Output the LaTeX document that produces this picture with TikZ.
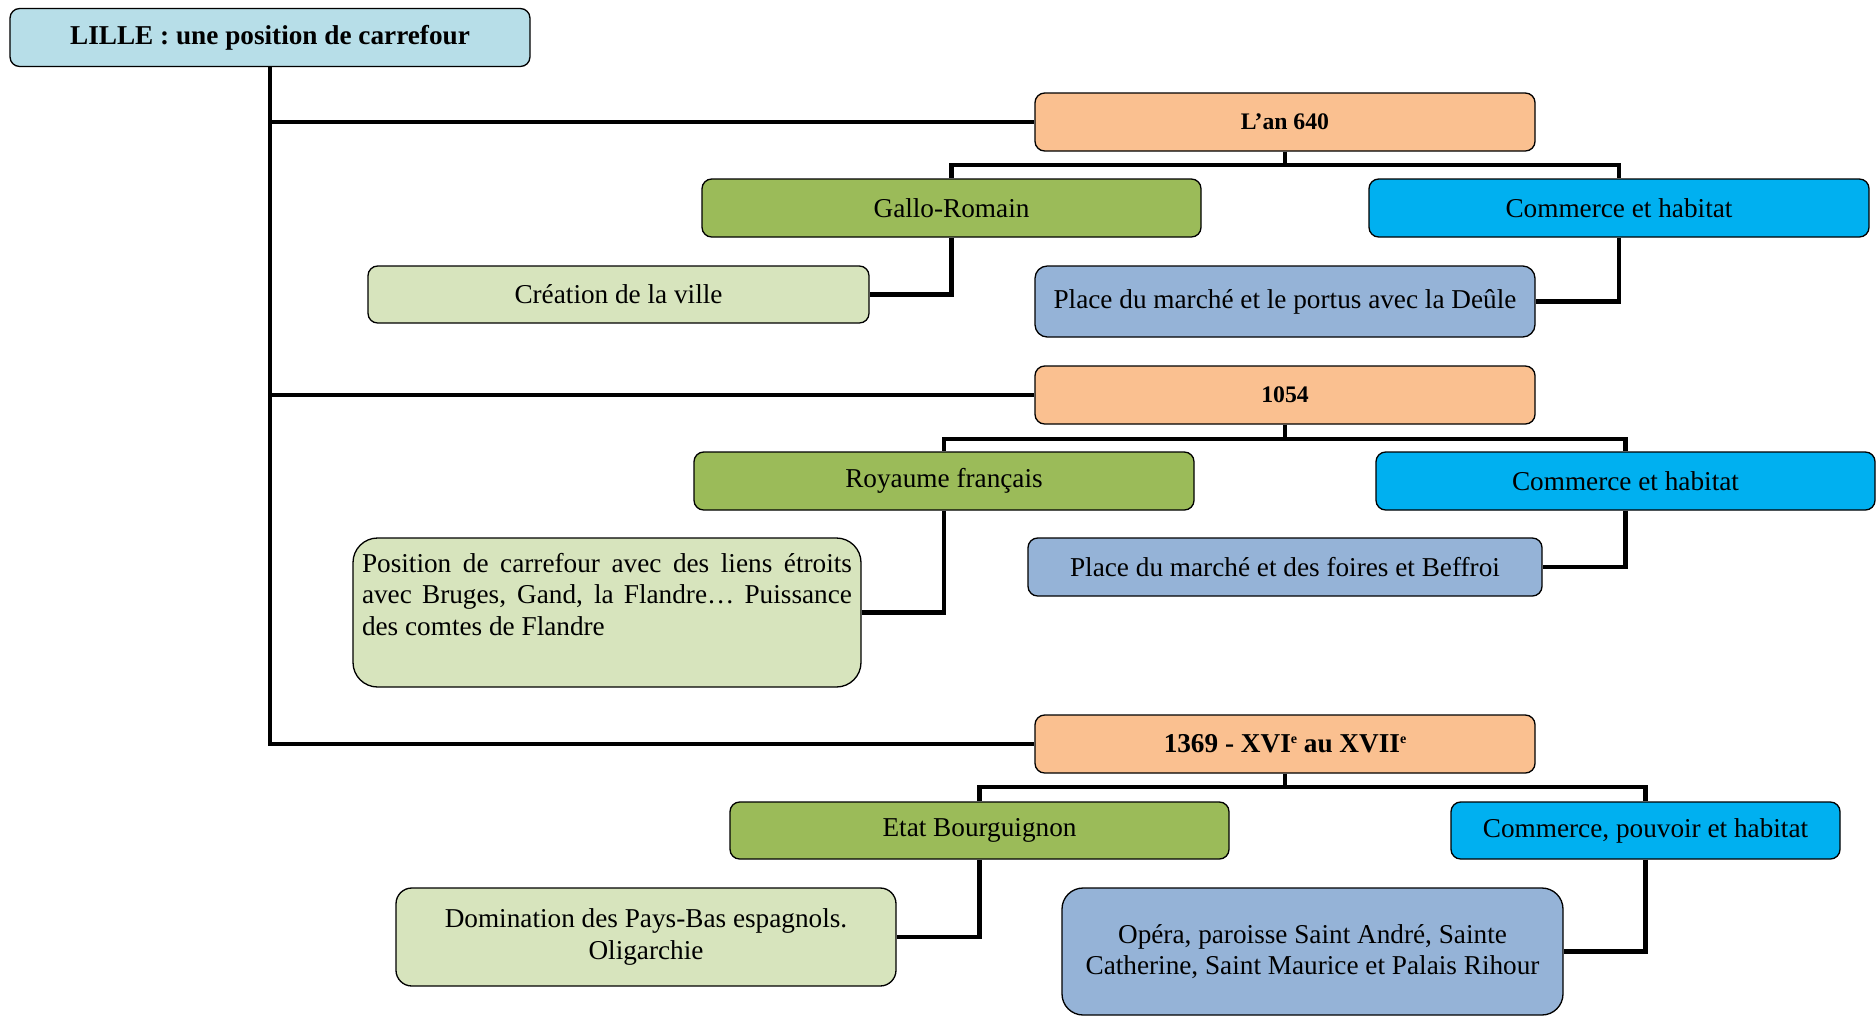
\documentclass[tikz,border=0pt]{standalone}
\usepackage{fontspec}
\setmainfont{Liberation Serif}
\definecolor{titlecol}{HTML}{B7DEE8}
\definecolor{yearcol}{HTML}{FAC090}
\definecolor{periodcol}{HTML}{9BBB59}
\definecolor{tradecol}{HTML}{00B0F0}
\definecolor{factcol}{HTML}{D7E4BD}
\definecolor{placecol}{HTML}{95B3D7}
\newcommand{\sieclesup}[1]{\raisebox{0.75ex}{\fontsize{8}{8}\selectfont #1}}

\begin{document}
\begin{tikzpicture}[
  box/.style={draw,line width=0.75pt,rounded corners=5.5pt,inner sep=0pt,
    minimum height=1.16cm,minimum width=10cm,align=center,
    font=\fontsize{15.5}{18}\selectfont},
  yearbox/.style={box,fill=yearcol,font=\fontsize{13.5}{16}\selectfont\bfseries},
  periodbox/.style={box,fill=periodcol},
  tradebox/.style={box,fill=tradecol},
  factbox/.style={box,fill=factcol},
  placebox/.style={box,fill=placecol},
  link/.style={line width=2.3pt}
]
  \useasboundingbox (0,0) rectangle (37.52,-20.34);

  % titre
  \node[box,fill=titlecol,minimum width=10.4cm,font=\fontsize{15.5}{18}\selectfont\bfseries]
    (lille) at (5.4,-0.75) {LILLE : une position de carrefour};

  % l'an 640
  \node[yearbox] (an640) at (25.7,-2.44) {L’an 640};
  \node[periodbox,minimum width=9.98cm] (gallo) at (19.03,-4.16) {Gallo-Romain};
  \node[tradebox] (trade1) at (32.38,-4.16) {Commerce et habitat};
  \node[factbox,minimum width=10.02cm,minimum height=1.14cm] (creation) at (12.37,-5.89) {Création de la ville};
  \node[placebox,minimum height=1.42cm,rounded corners=7pt] (market1) at (25.7,-6.03)
    {Place du marché et le portus avec la Deûle};

  % 1054
  \node[yearbox] (y1054) at (25.7,-7.9) {1054};
  \node[periodbox] (kingdom) at (18.88,-9.62) {Royaume français};
  \node[tradebox,minimum width=9.98cm] (trade2) at (32.51,-9.62) {Commerce et habitat};
  \node[factbox,minimum width=10.16cm,minimum height=2.98cm,rounded corners=14pt] (crossroad) at (12.14,-12.25)
    {\parbox[c][2.62cm][t]{9.8cm}{\vspace*{1.2mm}Position de carrefour avec des liens étroits\linebreak
      avec Bruges, Gand, la Flandre… Puissance\linebreak des comtes de Flandre}};
  \node[placebox,minimum width=10.28cm] (market2) at (25.7,-11.34) {Place du marché et des foires et Beffroi};

  % 1369
  \node[yearbox,font=\fontsize{15.5}{18}\selectfont\bfseries] (y1369) at (25.7,-14.88)
    {1369 - XVI\sieclesup{e} au XVII\sieclesup{e}};
  \node[periodbox,minimum width=9.98cm,minimum height=1.14cm] (burgundy) at (19.59,-16.61) {Etat Bourguignon};
  \node[tradebox,minimum width=7.78cm,minimum height=1.14cm] (trade3) at (32.91,-16.61) {Commerce, pouvoir et habitat};
  \node[factbox,minimum height=1.96cm,rounded corners=9pt] (rule) at (12.92,-18.74)
    {Domination des Pays-Bas espagnols.\\Oligarchie};
  \node[placebox,minimum width=10.02cm,minimum height=2.54cm,rounded corners=12pt] (opera) at (26.25,-19.03)
    {Opéra, paroisse Saint André, Sainte\\Catherine, Saint Maurice et Palais Rihour};

  % liaisons
  \draw[link] (lille.south) |- (y1369.west);
  \draw[link] (lille.south) |- (an640.west);
  \draw[link] (lille.south) |- (y1054.west);

  \draw[link] (an640.south) -- ++(0,-0.26) -| (gallo.north);
  \draw[link] (an640.south) -- ++(0,-0.26) -| (trade1.north);
  \draw[link] (gallo.south) |- (creation.east);
  \draw[link] (trade1.south) |- (market1.east);

  \draw[link] (y1054.south) -- ++(0,-0.28) -| (kingdom.north);
  \draw[link] (y1054.south) -- ++(0,-0.28) -| (trade2.north);
  \draw[link] (kingdom.south) |- (crossroad.east);
  \draw[link] (trade2.south) |- (market2.east);

  \draw[link] (y1369.south) -- ++(0,-0.26) -| (burgundy.north);
  \draw[link] (y1369.south) -- ++(0,-0.26) -| (trade3.north);
  \draw[link] (burgundy.south) |- (rule.east);
  \draw[link] (trade3.south) |- (opera.east);
\end{tikzpicture}
\end{document}
